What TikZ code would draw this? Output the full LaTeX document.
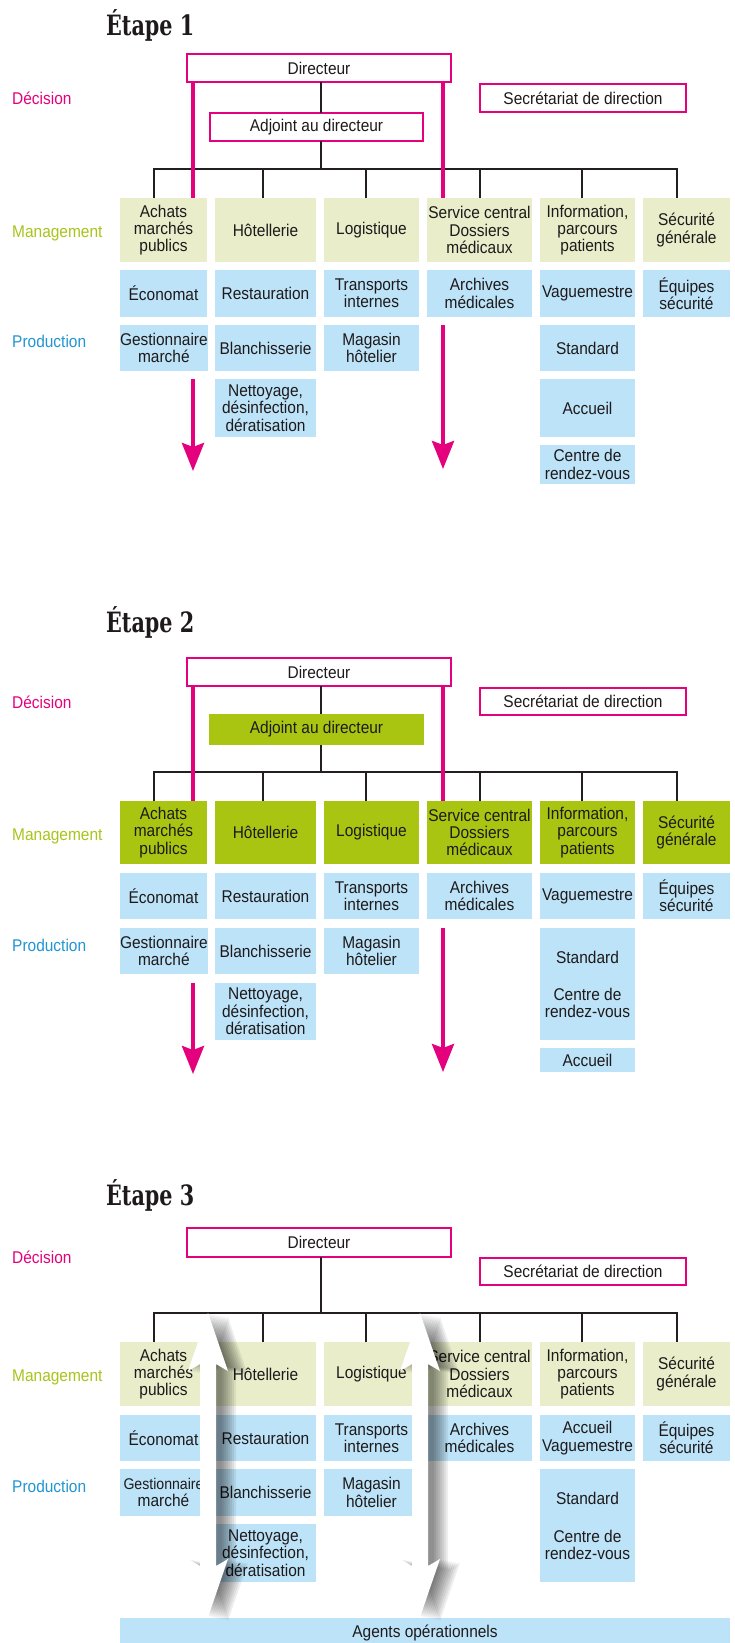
\documentclass[tikz,border=0pt]{standalone}
\usepackage{fontspec}
\setmainfont{Liberation Sans}[FakeStretch=0.91]
\newfontfamily\titlefont{DejaVu Serif}[FakeStretch=0.74]
\usetikzlibrary{arrows.meta}
\definecolor{pk}{HTML}{E5007D}
\definecolor{olv}{HTML}{E9EDCA}
\definecolor{olvd}{HTML}{AAC511}
\definecolor{lbl}{HTML}{BDE3F8}
\definecolor{txt}{HTML}{1E1A1B}
\definecolor{mgt}{HTML}{A9C41B}
\definecolor{prd}{HTML}{2196D3}
\definecolor{ln}{HTML}{231F20}
\newcommand{\mkcell}[7]{%
 \pgfmathsetmacro{\cw}{#5-#3}\pgfmathsetmacro{\ch}{#6-#4}%
 \node[#1, anchor=north west, minimum width=\cw pt, minimum height=\ch pt] (#2) at (#3,#4) {#7};}
\newcommand{\warrowpath}[1]{(#1,1313) -- (#1+20,1371) -- (#1+8,1364) -- (#1+8,1566) -- (#1+20,1559) -- (#1,1617) -- (#1-20,1559) -- (#1-8,1566) -- (#1-8,1364) -- (#1-20,1371) -- cycle}
\begin{document}
\begin{tikzpicture}[x=1pt,y=-1pt,
  font=\fontsize{17}{17.3}\selectfont,
  cellbase/.style={inner sep=0pt, outer sep=0pt, align=center, text=txt},
  lt/.style={cellbase, fill=olv},
  dk/.style={cellbase, fill=olvd},
  bl/.style={cellbase, fill=lbl},
  pb/.style={cellbase, draw=pk, line width=2.2pt, fill=white},
  txtonly/.style={cellbase, align=center},
  con/.style={draw=ln, line width=2pt},
  pkl/.style={draw=pk, line width=4pt},
  pka/.style={pkl, -{Stealth[length=28pt, width=22pt, inset=4pt]}},
  lab/.style={anchor=west, inner sep=0pt},
  ttl/.style={anchor=base west, inner sep=0pt, text=txt, font={\titlefont\bfseries\fontsize{28}{30}\selectfont}}]
\useasboundingbox[fill=white] (0,0) rectangle (734,1643);

% ================= STAGE 1 =================
\node[ttl] (at) at (106,35.7) {Étape 1};
\node[lab,text=pk] (ald) at (12,98) {Décision};
\node[lab,text=mgt] (alm) at (12,233) {Management};
\node[lab,text=prd] (alp) at (12,341) {Production};

\mkcell{pb}{adir}{187.1}{54.1}{450.9}{81.9}{Directeur}
\mkcell{pb}{asec}{480.1}{84.1}{685.9}{111.9}{Secrétariat de direction}
\mkcell{pb}{aadj}{210.1}{113.1}{422.9}{140.9}{Adjoint au directeur}

\mkcell{lt}{a11}{120}{198}{207}{262}{Achats\\marchés\\publics}
\mkcell{lt}{a12}{215}{198}{316}{262}{Hôtellerie}
\mkcell{lt}{a13}{324}{198}{419}{262}{Logistique}
\mkcell{lt}{a14}{427}{198}{532}{262}{Service central\\Dossiers\\médicaux}
\mkcell{lt}{a15}{540}{198}{635}{262}{Information,\\parcours\\patients}
\mkcell{lt}{a16}{643}{198}{730}{262}{Sécurité\\générale}

\mkcell{bl}{a21}{120}{270}{207}{317}{Économat}
\mkcell{bl}{a22}{215}{270}{316}{317}{Restauration}
\mkcell{bl}{a23}{324}{270}{419}{317}{Transports\\internes}
\mkcell{bl}{a24}{427}{270}{532}{317}{Archives\\médicales}
\mkcell{bl}{a25}{540}{270}{635}{317}{Vaguemestre}
\mkcell{bl}{a26}{643}{270}{730}{317}{Équipes\\sécurité}

\mkcell{bl}{a31}{120}{325}{207}{371}{Gestionnaire\\marché}
\mkcell{bl}{a32}{215}{325}{316}{371}{Blanchisserie}
\mkcell{bl}{a33}{324}{325}{419}{371}{Magasin\\hôtelier}
\mkcell{bl}{a35}{540}{325}{635}{371}{Standard}

\mkcell{bl}{a42}{215}{379}{316}{437}{Nettoyage,\\désinfection,\\dératisation}
\mkcell{bl}{a45}{540}{379}{635}{437}{Accueil}
\mkcell{bl}{a55}{540}{445}{635}{484}{Centre de\\rendez-vous}

\coordinate (abus) at (321,169);
\coordinate (ad1) at (154,198); \coordinate (ad2) at (263,198);
\coordinate (ad3) at (366,198); \coordinate (ad4) at (480,198);
\coordinate (ad5) at (582,198); \coordinate (ad6) at (677,198);
\draw[con] (adir.south -| abus) -- (aadj.north -| abus);
\draw[con] (aadj.south -| abus) -- (abus);
\draw[con] (ad1) -- (ad1 |- abus) -- (ad6 |- abus) -- (ad6);
\foreach \k in {2,...,5} \draw[con] (ad\k) -- (ad\k |- abus);

\coordinate (ap1) at (193,198); \coordinate (ap4) at (443,198);
\draw[pkl] (adir.south -| ap1) -- (ap1);
\draw[pkl] (adir.south -| ap4) -- (ap4);
\coordinate (aq1) at (193,379); \coordinate (ar1) at (193,471);
\coordinate (aq4) at (443,325); \coordinate (ar4) at (443,469);
\draw[pka] (aq1) -- (ar1);
\draw[pka] (aq4) -- (ar4);

% ================= STAGE 2 =================
\node[ttl] (bt) at (106,632) {Étape 2};
\node[lab,text=pk] (bld) at (12,702) {Décision};
\node[lab,text=mgt] (blm) at (12,836) {Management};
\node[lab,text=prd] (blp) at (12,945) {Production};

\mkcell{pb}{bdir}{187.1}{658.1}{450.9}{685.9}{Directeur}
\mkcell{pb}{bsec}{480.1}{688.1}{685.9}{714.9}{Secrétariat de direction}
\mkcell{dk}{badj}{209}{714}{424}{745}{Adjoint au directeur}

\mkcell{dk}{b11}{120}{801}{207}{864}{Achats\\marchés\\publics}
\mkcell{dk}{b12}{215}{801}{316}{864}{Hôtellerie}
\mkcell{dk}{b13}{324}{801}{419}{864}{Logistique}
\mkcell{dk}{b14}{427}{801}{532}{864}{Service central\\Dossiers\\médicaux}
\mkcell{dk}{b15}{540}{801}{635}{864}{Information,\\parcours\\patients}
\mkcell{dk}{b16}{643}{801}{730}{864}{Sécurité\\générale}

\mkcell{bl}{b21}{120}{873}{207}{919}{Économat}
\mkcell{bl}{b22}{215}{873}{316}{919}{Restauration}
\mkcell{bl}{b23}{324}{873}{419}{919}{Transports\\internes}
\mkcell{bl}{b24}{427}{873}{532}{919}{Archives\\médicales}
\mkcell{bl}{b25}{540}{873}{635}{919}{Vaguemestre}
\mkcell{bl}{b26}{643}{873}{730}{919}{Équipes\\sécurité}

\mkcell{bl}{b31}{120}{928}{207}{974}{Gestionnaire\\marché}
\mkcell{bl}{b32}{215}{928}{316}{974}{Blanchisserie}
\mkcell{bl}{b33}{324}{928}{419}{974}{Magasin\\hôtelier}
\mkcell{bl}{b35}{540}{928}{635}{1040}{}
\node[txtonly] (b35s) at (587.5,957) {Standard};
\node[txtonly] (b35c) at (587.5,1003) {Centre de\\rendez-vous};

\mkcell{bl}{b42}{215}{983}{316}{1040}{Nettoyage,\\désinfection,\\dératisation}
\mkcell{bl}{b55}{540}{1048}{635}{1072}{Accueil}

\coordinate (bbus) at (321,772);
\coordinate (bd1) at (154,801); \coordinate (bd2) at (263,801);
\coordinate (bd3) at (366,801); \coordinate (bd4) at (480,801);
\coordinate (bd5) at (582,801); \coordinate (bd6) at (677,801);
\draw[con] (bdir.south -| bbus) -- (badj.north -| bbus);
\draw[con] (badj.south -| bbus) -- (bbus);
\draw[con] (bd1) -- (bd1 |- bbus) -- (bd6 |- bbus) -- (bd6);
\foreach \k in {2,...,5} \draw[con] (bd\k) -- (bd\k |- bbus);

\coordinate (bp1) at (193,801); \coordinate (bp4) at (443,801);
\draw[pkl] (bdir.south -| bp1) -- (bp1);
\draw[pkl] (bdir.south -| bp4) -- (bp4);
\coordinate (bq1) at (193,983); \coordinate (br1) at (193,1074);
\coordinate (bq4) at (443,928); \coordinate (br4) at (443,1072);
\draw[pka] (bq1) -- (br1);
\draw[pka] (bq4) -- (br4);

% ================= STAGE 3 =================
\node[ttl] (ct) at (106,1205) {Étape 3};
\node[lab,text=pk] (cld) at (12,1257) {Décision};
\node[lab,text=mgt] (clm) at (12,1377) {Management};
\node[lab,text=prd] (clp) at (12,1486) {Production};

\mkcell{pb}{cdir}{187.1}{1228.1}{450.9}{1256.9}{Directeur}
\mkcell{pb}{csec}{480.1}{1258.1}{685.9}{1284.9}{Secrétariat de direction}

\mkcell{lt}{c11}{120}{1342}{207}{1406}{Achats\\marchés\\publics}
\mkcell{lt}{c12}{215}{1342}{316}{1406}{Hôtellerie}
\mkcell{lt}{c13}{324}{1342}{419}{1406}{Logistique}
\mkcell{lt}{c14}{427}{1342}{532}{1406}{Service central\\Dossiers\\médicaux}
\mkcell{lt}{c15}{540}{1342}{635}{1406}{Information,\\parcours\\patients}
\mkcell{lt}{c16}{643}{1342}{730}{1406}{Sécurité\\générale}

\mkcell{bl}{c21}{120}{1415}{207}{1461}{Économat}
\mkcell{bl}{c22}{215}{1415}{316}{1461}{Restauration}
\mkcell{bl}{c23}{324}{1415}{419}{1461}{Transports\\internes}
\mkcell{bl}{c24}{427}{1415}{532}{1461}{Archives\\médicales}
\mkcell{bl}{c25}{540}{1415}{635}{1461}{Accueil\\Vaguemestre}
\mkcell{bl}{c26}{643}{1415}{730}{1461}{Équipes\\sécurité}

\mkcell{bl}{c31}{120}{1469}{207}{1516}{{\fontsize{15.5}{17.3}\selectfont Gestionnaire}\\marché}
\mkcell{bl}{c32}{215}{1469}{316}{1516}{Blanchisserie}
\mkcell{bl}{c33}{324}{1469}{419}{1516}{Magasin\\hôtelier}
\mkcell{bl}{c35}{540}{1469}{635}{1582}{}
\node[txtonly] (c35s) at (587.5,1498) {Standard};
\node[txtonly] (c35c) at (587.5,1545) {Centre de\\rendez-vous};
\mkcell{bl}{c42}{215}{1524}{316}{1582}{Nettoyage,\\désinfection,\\dératisation}

\mkcell{bl}{cag}{120}{1618}{730}{1643}{}
\node[txtonly] (cagt) at (425,1633) {Agents opérationnels};

\coordinate (cbus) at (321,1313);
\coordinate (cd1) at (154,1342); \coordinate (cd2) at (263,1342);
\coordinate (cd3) at (366,1342); \coordinate (cd4) at (480,1342);
\coordinate (cd5) at (582,1342); \coordinate (cd6) at (677,1342);
\draw[con] (cdir.south -| cbus) -- (cbus);
\draw[con] (cd1) -- (cd1 |- cbus) -- (cd6 |- cbus) -- (cd6);
\foreach \k in {2,...,5} \draw[con] (cd\k) -- (cd\k |- cbus);

% white double arrows with soft shadow
\foreach \s in {1,...,10} {
  \fill[black, opacity=0.065, xshift=\s*2pt, yshift=-\s*0.4pt] \warrowpath{208};
  \fill[black, opacity=0.065, xshift=\s*2pt, yshift=-\s*0.4pt] \warrowpath{420};
}
\fill[white] \warrowpath{208};
\fill[white] \warrowpath{420};
\end{tikzpicture}
\end{document}
